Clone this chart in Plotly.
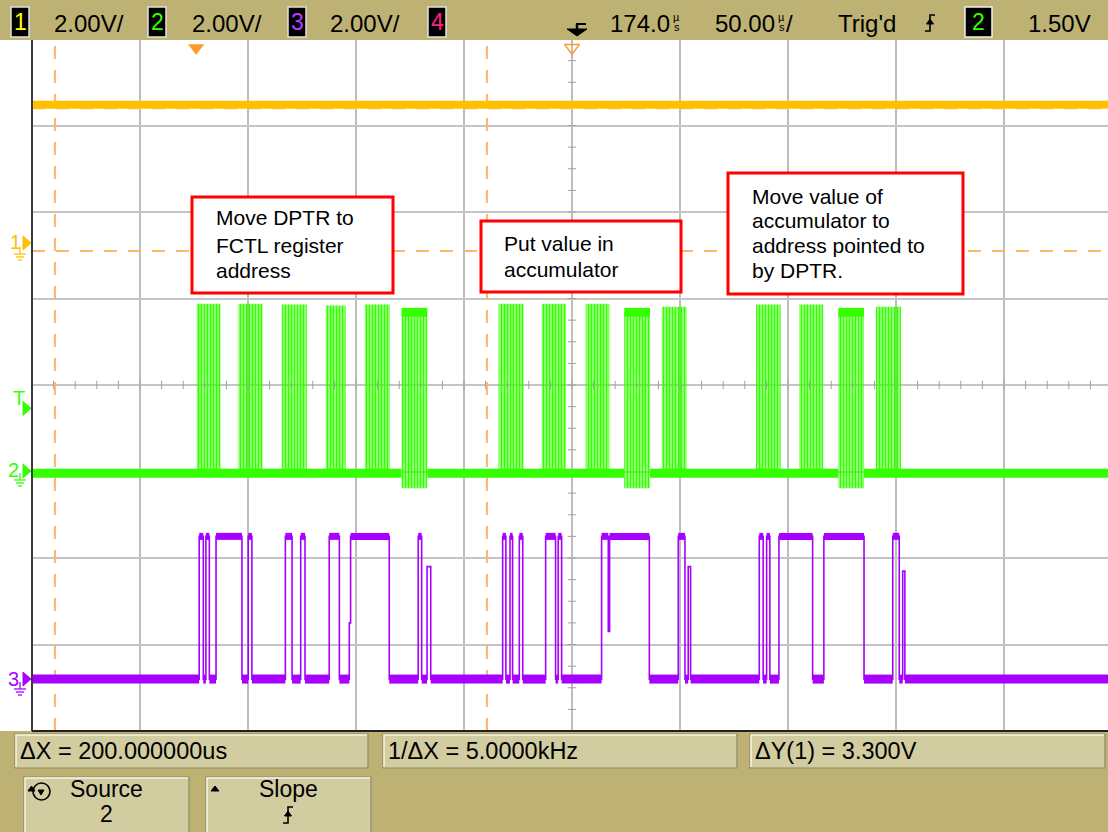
import plotly.graph_objects as go
import numpy as np

# ---------------- data ----------------
TIME_PER_DIV = 50.0      # µs / div
DELAY = 174.0            # µs at screen centre
VOLT_PER_DIV = 2.0       # V / div (all channels)
TRIG_LEVEL = 1.50        # V, channel 2

ch1_ground_div = 5.59    # ground reference position, divisions above bottom
ch2_ground_div = 2.98
ch3_ground_div = 0.60

ch1_time = [-76.0, 422.2]
ch1_volt = [3.3, 3.3]

ch2_burst_start = [0.2, 19.5, 39.6, 60.0, 78.1, 95.1, 140.0, 160.0, 180.3, 198.2, 215.6, 259.2, 279.2, 297.3, 314.7]
ch2_burst_end = [11.3, 30.8, 51.2, 69.2, 89.7, 107.0, 151.6, 171.2, 191.3, 210.1, 227.1, 270.6, 290.3, 309.2, 326.3]
ch2_burst_high = [3.92, 3.92, 3.90, 3.88, 3.90, 3.72, 3.92, 3.92, 3.92, 3.72, 3.85, 3.90, 3.90, 3.72, 3.85]
ch2_burst_low = [0.0, 0.0, 0.0, 0.0, 0.0, -0.35, 0.0, 0.0, 0.0, -0.35, 0.0, 0.0, 0.0, -0.35, 0.0]
ch2_burst_latched = [0, 0, 0, 0, 0, 1, 0, 0, 0, 1, 0, 0, 0, 1, 0]

ch3_time = [-76.0, 1.4, 3.3, 4.5, 6.1, 9.2, 21.2, 24.1, 25.8, 41.3, 44.4, 48.4, 50.4, 61.6, 66.3, 70.9, 71.5,
            89.4, 102.8, 104.4, 106.9, 108.6,
            141.9, 143.4, 145.3, 146.5, 149.6, 151.2, 161.8, 166.4, 167.6, 169.2, 187.7, 190.8, 191.4,
            209.8, 223.2, 226.3, 227.8, 228.9,
            260.7, 262.5, 264.1, 265.6, 269.8, 285.4, 290.6, 309.2, 322.5, 325.5, 327.1, 328.1]
ch3_volt = [0, 3.3, 0, 3.3, 0, 3.3, 0, 3.3, 0, 3.3, 0, 3.3, 0, 3.3, 0, 1.3, 3.3,
            0, 3.3, 0, 2.6, 0,
            3.3, 0, 3.3, 0, 3.3, 0, 3.3, 0, 3.3, 0, 3.3, 1.1, 3.3,
            0, 3.3, 0, 2.6, 0,
            3.3, 0, 3.3, 0, 3.3, 0, 3.3, 0, 3.3, 0, 2.5, 0]

cursor_x_us = [-65.4, 134.6]          # ΔX = 200 µs
cursor_y_ch1 = [-0.08, 3.22]          # ΔY(1) = 3.3 V

header_labels = ["2.00V/", "2.00V/", "2.00V/"]
footer_labels = ["ΔX = 200.000000us", "1/ΔX = 5.0000kHz", "ΔY(1) = 3.300V"]
note_lines = [["Move DPTR to", "FCTL register", "address"],
              ["Put value in", "accumulator"],
              ["Move value of", "accumulator to", "address pointed to", "by DPTR."]]

# ---------------- colours / geometry ----------------
YELLOW = "#FFC000"
GREEN = "#33FF00"
PURPLE = "#A600FF"
ORANGE = "#FFB468"
OLIVE = "#BDB273"
BTN = "#D2CCA1"
SCOPE_FONT = "Liberation Sans, Arial, sans-serif"

W, H = 1108, 832
ML, MT, MB = 32, 39, 101
PW, PH = W - ML, H - MT - MB
DIV_PX = 108.0
x_left = DELAY - 5 * TIME_PER_DIV
x_right = x_left + PW / DIV_PX * TIME_PER_DIV


def px(x):
    return (x - ML) / PW


def py(y):
    return (H - MB - y) / PH


def vdiv(v, ground):
    return ground + np.asarray(v, dtype=float) / VOLT_PER_DIV


def step_bands(t, v, t_end, level):
    xs, ys = [], []
    for i in range(len(t)):
        t1 = t[i + 1] if i + 1 < len(t) else t_end
        if v[i] == level:
            xs += [t[i], t1, None]
            ys += [v[i], v[i], None]
    return xs, ys


fig = go.Figure()

# centre-line minor ticks (graticule)
tick_x = np.arange(x_left, x_right + 0.01, TIME_PER_DIV / 5)
fig.add_trace(go.Scatter(x=tick_x, y=[4] * len(tick_x), mode="markers", hoverinfo="skip",
                         marker=dict(symbol="line-ns", size=6, line=dict(width=1, color="#A0A0A0"))))
tick_y = np.arange(0, 8.01, 0.25)
fig.add_trace(go.Scatter(x=[DELAY] * len(tick_y), y=tick_y, mode="markers", hoverinfo="skip",
                         marker=dict(symbol="line-ew", size=6, line=dict(width=1, color="#A0A0A0"))))

# cursors
for cx in cursor_x_us:
    fig.add_trace(go.Scatter(x=[cx, cx], y=[0, 8], mode="lines", hoverinfo="skip",
                             line=dict(color=ORANGE, width=2, dash="13px,11px")))
for cy in cursor_y_ch1:
    yy = float(vdiv(cy, ch1_ground_div))
    fig.add_trace(go.Scatter(x=[x_left, x_right], y=[yy, yy], mode="lines", hoverinfo="skip",
                             line=dict(color=ORANGE, width=2, dash="13px,11px")))

# channel 2 : bursts of bus activity
centers = [(a + b) / 2 for a, b in zip(ch2_burst_start, ch2_burst_end)]
widths = [b - a for a, b in zip(ch2_burst_start, ch2_burst_end)]
bases = list(vdiv(ch2_burst_low, ch2_ground_div))
heights = [(h - l) / VOLT_PER_DIV for h, l in zip(ch2_burst_high, ch2_burst_low)]
fig.add_trace(go.Bar(x=centers, y=heights, base=bases, width=widths, hoverinfo="skip",
                     marker=dict(color=GREEN, line=dict(width=0),
                                 pattern=dict(shape="|", fgcolor=GREEN, bgcolor="rgba(255,255,255,0)",
                                              size=3, solidity=0.72, fillmode="replace"))))
# ch2 baseline, broken under latched bursts
bx, by = [], []
seg_start = x_left
for s, e, lat in zip(ch2_burst_start, ch2_burst_end, ch2_burst_latched):
    if lat:
        bx += [seg_start, s, None]
        by += [ch2_ground_div, ch2_ground_div, None]
        seg_start = e
bx += [seg_start, x_right]
by += [ch2_ground_div, ch2_ground_div]
fig.add_trace(go.Scatter(x=bx, y=by, mode="lines", hoverinfo="skip", line=dict(color=GREEN, width=9)))
lx, ly = [], []
for s, e, h, lat in zip(ch2_burst_start, ch2_burst_end, ch2_burst_high, ch2_burst_latched):
    if lat:
        yv = float(vdiv(h, ch2_ground_div))
        lx += [s, e, None]
        ly += [yv, yv, None]
fig.add_trace(go.Scatter(x=lx, y=ly, mode="lines", hoverinfo="skip", line=dict(color=GREEN, width=9)))

# channel 3
fig.add_trace(go.Scatter(x=ch3_time + [x_right], y=list(vdiv(ch3_volt + [ch3_volt[-1]], ch3_ground_div)),
                         mode="lines", line_shape="hv", hoverinfo="skip",
                         line=dict(color=PURPLE, width=1.6)))
for lev, wdt in [(0, 9), (3.3, 7)]:
    sx, sy = step_bands(ch3_time, ch3_volt, x_right, lev)
    sy = [None if v is None else float(vdiv(v, ch3_ground_div)) for v in sy]
    fig.add_trace(go.Scatter(x=sx, y=sy, mode="lines", hoverinfo="skip", line=dict(color=PURPLE, width=wdt)))

# channel 1
fig.add_trace(go.Scatter(x=ch1_time, y=list(vdiv(ch1_volt, ch1_ground_div)), mode="lines", hoverinfo="skip",
                         line=dict(color=YELLOW, width=8)))

# trigger point / delay reference markers
fig.add_trace(go.Scatter(x=[0.0], y=[7.9], mode="markers", hoverinfo="skip",
                         marker=dict(symbol="triangle-down", size=14, color="#FF9A2A", line=dict(width=0))))
fig.add_trace(go.Scatter(x=[DELAY], y=[7.9], mode="markers", hoverinfo="skip",
                         marker=dict(symbol="triangle-down-open", size=13, color="#FF9A2A", line=dict(width=1.5))))

shapes = []
ann = []


def rect(x0, y0, x1, y1, fill, line="rgba(0,0,0,0)", lw=0, layer="above"):
    shapes.append(dict(type="rect", xref="paper", yref="paper", x0=px(x0), x1=px(x1), y0=py(y1), y1=py(y0),
                       fillcolor=fill, line=dict(color=line, width=lw), layer=layer))


def path(points, color, lw=1.5, fill=None, close=False):
    d = "M " + " L ".join(f"{px(x):.5f},{py(y):.5f}" for x, y in points) + (" Z" if close else "")
    shapes.append(dict(type="path", xref="paper", yref="paper", path=d, layer="above",
                       line=dict(color=color, width=lw), fillcolor=fill if fill else "rgba(0,0,0,0)"))


def text(x, y, s, size, color="black", anchor="left", family=SCOPE_FONT):
    ann.append(dict(x=px(x), y=py(y), xref="paper", yref="paper", text=s, showarrow=False,
                    xanchor=anchor, yanchor="middle", font=dict(size=size, color=color, family=family)))


def button(x0, y0, x1, y1):
    rect(x0, y0, x1, y1, BTN, "#8F8966", 1.2)
    path([(x0 + 1, y1 - 1), (x0 + 1, y0 + 1), (x1 - 1, y0 + 1)], "#F6F3E4", 1.5)


def slope_sym(x, y, color="black"):
    path([(x - 5, y + 8), (x, y + 8), (x, y - 8), (x + 5, y - 8)], color, 1.6)
    path([(x - 3.5, y + 1), (x + 3.5, y + 1), (x, y - 4)], color, 1, fill=color, close=True)


# plot frame line
path([(32, 39), (32, 731)], "#3A3A3A", 2)

# header
rect(0, 0, W, 40, OLIVE)
for (bx0, num, col) in [(11, "1", "#FFFF00"), (148, "2", GREEN), (288, "3", "#B040FF"), (428, "4", "#FF2080")]:
    rect(bx0, 7, bx0 + 18, 37, "black", "#E0E0E0", 1.5)
    text(bx0 + 9, 22.5, num, 23, col, "center")
for x0, lab in zip([52, 190, 328], header_labels):
    text(x0, 23, lab, 24, "black", "left")
path([(576, 24), (586, 24)], "black", 2)
path([(577, 24), (577, 29)], "black", 2.5)
path([(567, 29), (587, 29), (577, 36)], "black", 1, fill="black", close=True)
text(672, 23, "174.0", 24, "black", "right")
text(676.5, 17.5, "µ", 11, "black", "center")
text(676.5, 27.5, "s", 11, "black", "center")
text(777, 23, "50.00", 24, "black", "right")
text(781.5, 17.5, "µ", 11, "black", "center")
text(781.5, 27.5, "s", 11, "black", "center")
text(784, 23, "/", 24, "black", "left")
text(836, 23, "Trig'd", 24, "black", "left")
slope_sym(930, 23)
rect(965, 7, 992, 37, "black", "#F0F0F0", 1.5)
text(978.5, 22.5, "2", 23, GREEN, "center")
text(1026, 23, "1.50V", 24, "black", "left")

# footer
rect(0, 731, W, H, OLIVE)
path([(32, 731), (W, 731)], "#202020", 2)
for (x0, x1), lab in zip([(15, 368), (383, 737), (750, 1105)], footer_labels):
    button(x0, 734, x1, 768)
    text(x0 + 3, 751, lab, 23.5, "black", "left")
button(24, 777, 189, 834)
button(206, 777, 371, 834)
text(106, 789, "Source", 23, "black", "center")
text(106, 814, "2", 23, "black", "center")
shapes.append(dict(type="circle", xref="paper", yref="paper", x0=px(33), x1=px(50), y0=py(800), y1=py(783),
                   line=dict(color="black", width=1.6), layer="above"))
path([(28, 791), (35, 791), (31.5, 786)], "black", 1, fill="black", close=True)
path([(44, 790), (38, 790), (41, 795)], "black", 1, fill="black", close=True)
path([(211, 791), (219, 791), (215, 786)], "black", 1, fill="black", close=True)
text(288, 789, "Slope", 23, "black", "center")
slope_sym(288, 815)


def ground(x, y, color):
    path([(x, y - 7), (x, y)], color, 1.3)
    path([(x - 6, y), (x + 6, y)], color, 1.3)
    path([(x - 4, y + 3), (x + 4, y + 3)], color, 1.3)
    path([(x - 2, y + 6), (x + 2, y + 6)], color, 1.3)


def arrow(y, color):
    path([(23, y - 7), (31, y), (23, y + 7)], color, 1, fill=color, close=True)


arrow(243, YELLOW)
text(15, 242, "1", 20, YELLOW, "center")
ground(20, 254, YELLOW)
y_t = 731 - (ch2_ground_div + TRIG_LEVEL / VOLT_PER_DIV) * 86.5
arrow(y_t, GREEN)
text(19, y_t - 10, "T", 20, GREEN, "center")
arrow(471, GREEN)
text(13, 470, "2", 20, GREEN, "center")
ground(20, 480, GREEN)
arrow(679, PURPLE)
text(13, 679, "3", 20, PURPLE, "center")
ground(20, 689, PURPLE)

# annotation boxes
boxes = [(192, 197, 393, 293, 214, [218, 245, 270]),
         (481, 221, 681, 292, 502, [244, 269]),
         (728, 173, 963, 294, 750, [196, 221, 245, 270])]
for (x0, y0, x1, y1, tx, ys), lines in zip(boxes, note_lines):
    rect(x0, y0, x1, y1, "white", "#FF0000", 3)
    for yy, s in zip(ys, lines):
        text(tx, yy, s, 21, "black", "left", "Liberation Sans, Arial, sans-serif")

fig.update_layout(
    width=W, height=H, margin=dict(l=ML, r=0, t=MT, b=MB, pad=0),
    paper_bgcolor="white", plot_bgcolor="white", showlegend=False, barmode="overlay",
    xaxis=dict(range=[x_left, x_right], tick0=x_left, dtick=TIME_PER_DIV, showgrid=True,
               gridcolor="#BDBDBD", gridwidth=1.5, showticklabels=False, ticks="", zeroline=False,
               showline=False, fixedrange=True),
    yaxis=dict(range=[0, 8], tick0=0, dtick=1, showgrid=True, gridcolor="#C4C4C4", gridwidth=1.5,
               showticklabels=False, ticks="", zeroline=False, showline=False, fixedrange=True),
    shapes=shapes, annotations=ann,
)

fig.write_html("out.html", config={"displayModeBar": False},
               post_script="document.body.style.margin='0px';document.body.style.overflow='hidden';")
